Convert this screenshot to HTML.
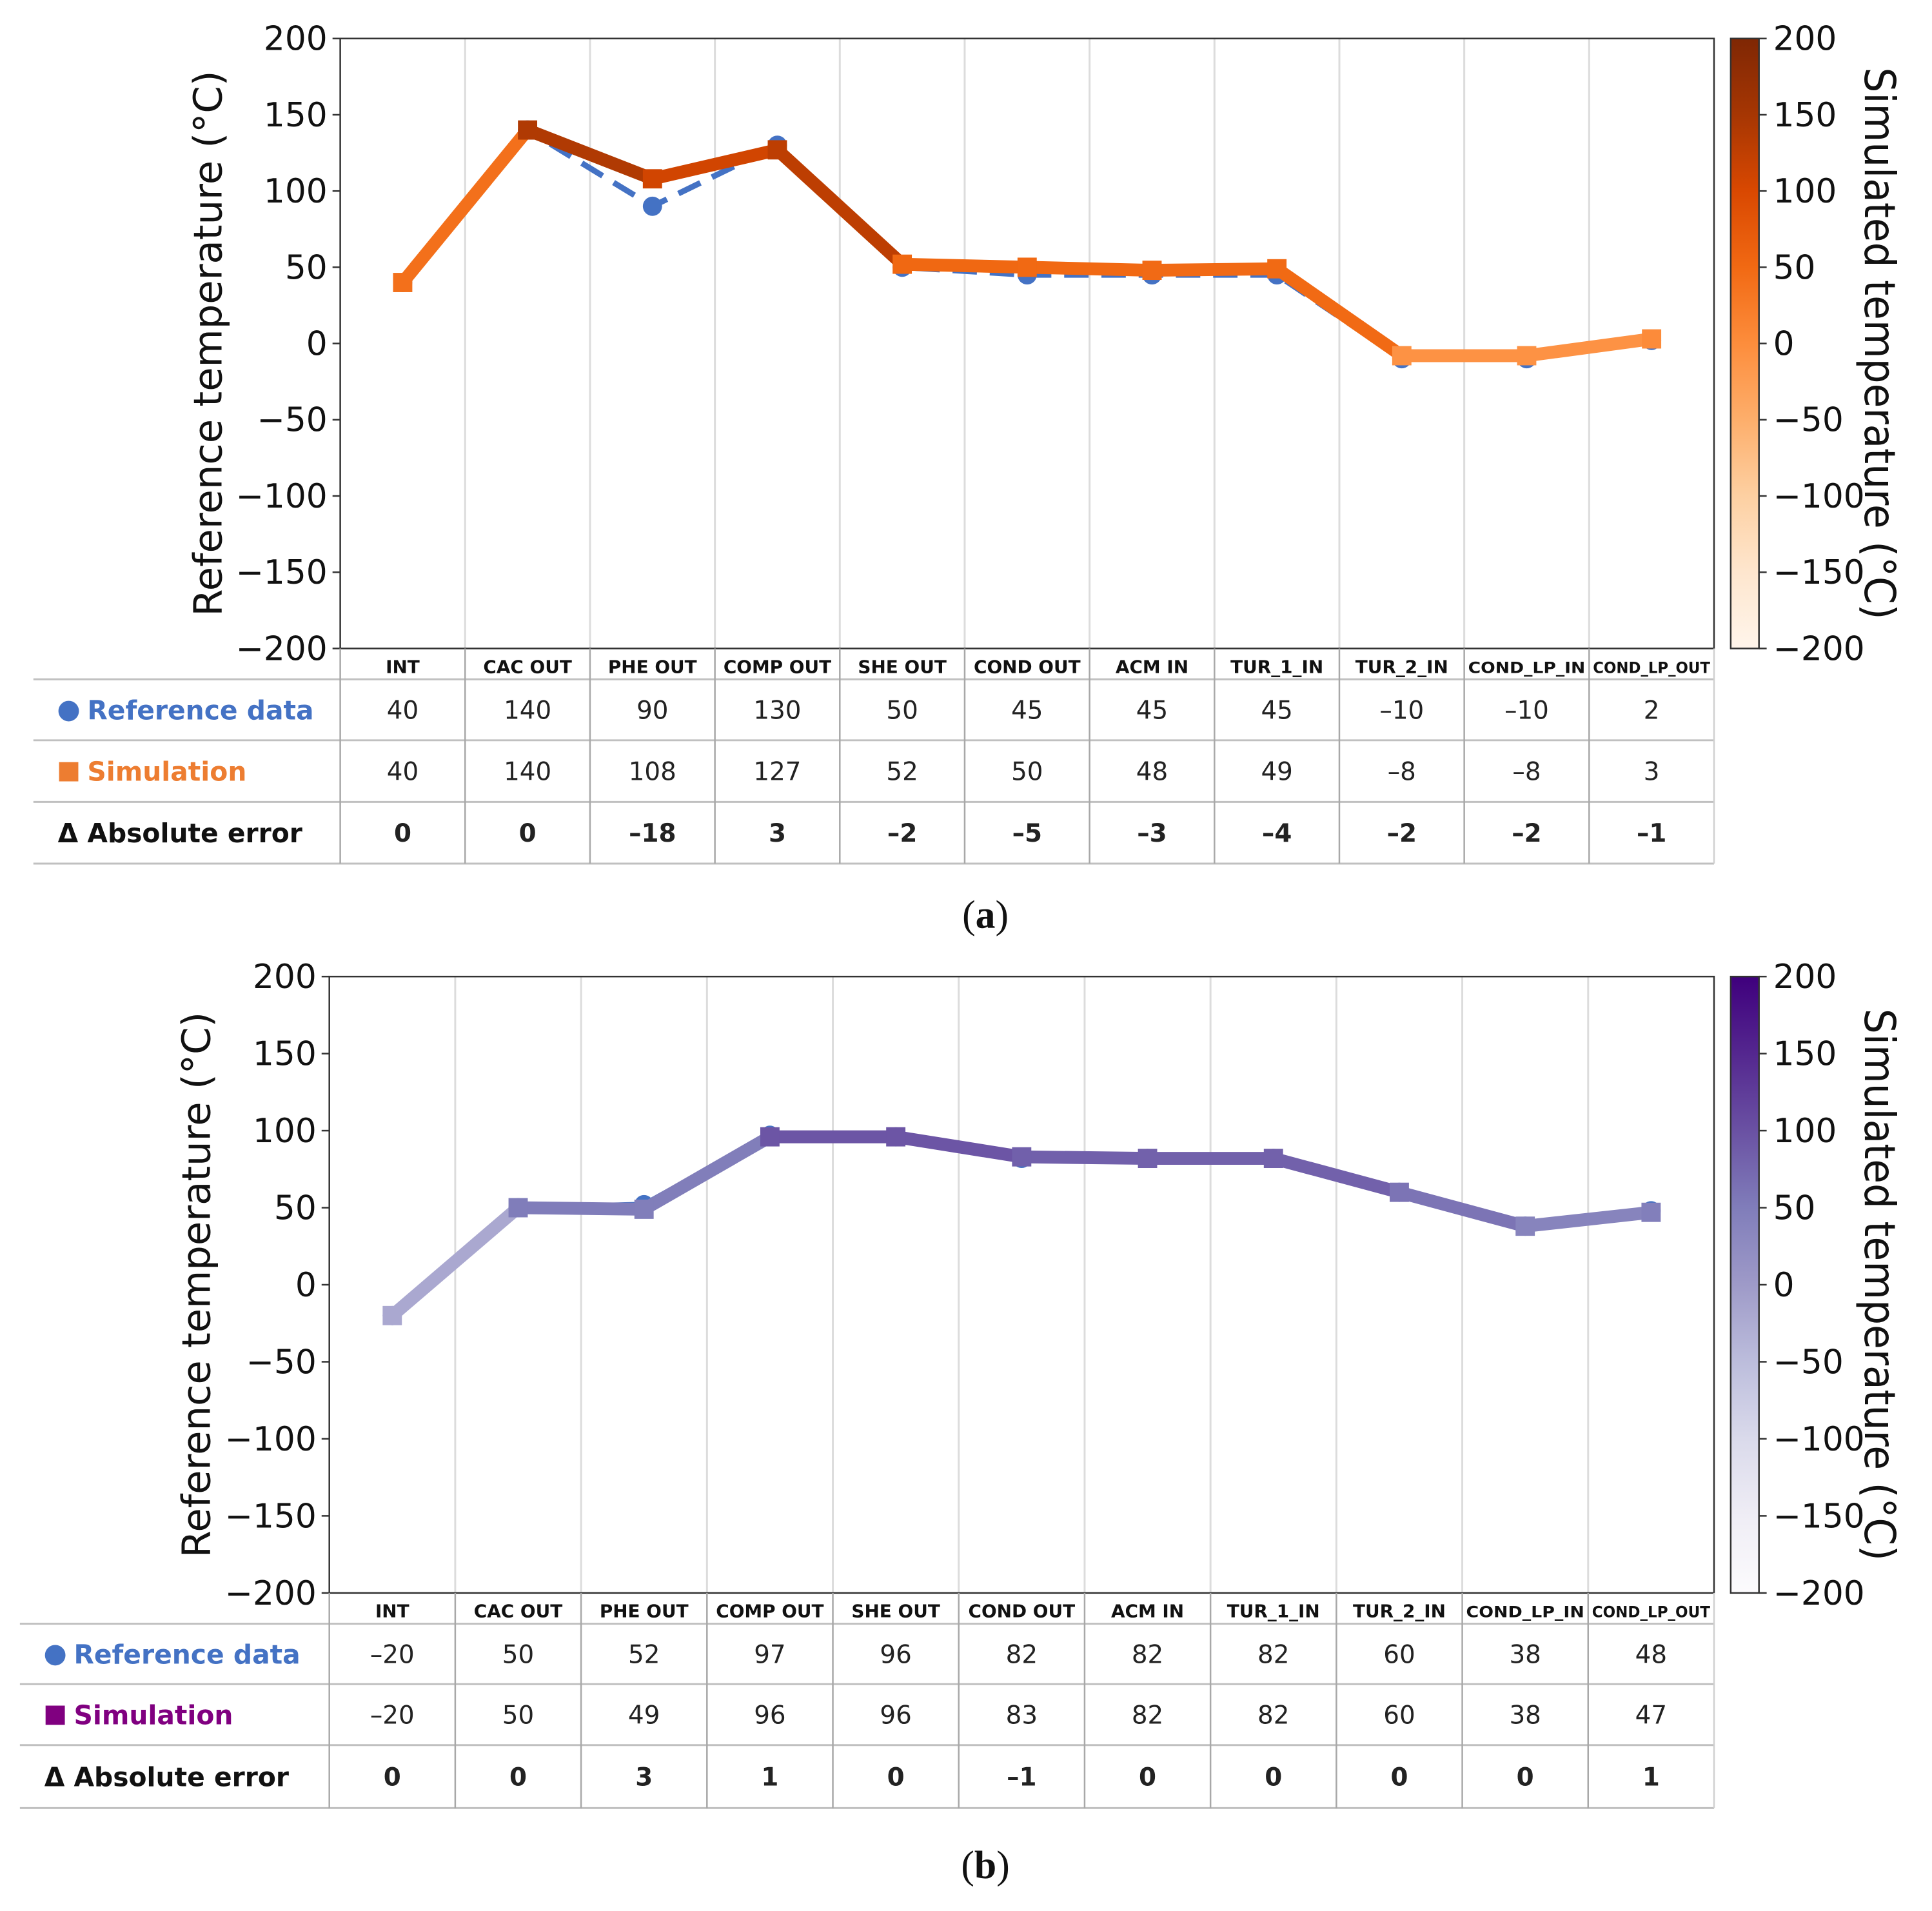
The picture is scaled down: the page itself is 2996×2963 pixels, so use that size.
<!DOCTYPE html>
<html><head><meta charset="utf-8">
<style>
html,body{margin:0;padding:0;background:#fff;}
svg{display:block;font-family:"DejaVu Sans","Liberation Sans",sans-serif;}
</style></head>
<body>
<svg width="2996" height="2963" viewBox="0 0 2996 2963" xmlns="http://www.w3.org/2000/svg"><g id="fig" transform="scale(0.9955)"></g></svg>
<script>
const categories = ["INT","CAC OUT","PHE OUT","COMP OUT","SHE OUT","COND OUT","ACM IN","TUR_1_IN","TUR_2_IN","COND_LP_IN","COND_LP_OUT"];
const refA = [40,140,90,130,50,45,45,45,-10,-10,2];
const simA = [40,140,108,127,52,50,48,49,-8,-8,3];
const errA = [0,0,-18,3,-2,-5,-3,-4,-2,-2,-1];
const refB = [-20,50,52,97,96,82,82,82,60,38,48];
const simB = [-20,50,49,96,96,83,82,82,60,38,47];
const errB = [0,0,3,1,0,-1,0,0,0,0,1];
const yTicks = [200,150,100,50,0,-50,-100,-150,-200];
const yMin = -200, yMax = 200;

const ORANGES = ["#fff5eb","#fee6ce","#fdd0a2","#fdae6b","#fd8d3c","#f16913","#d94801","#a63603","#7f2704"];
const PURPLES = ["#fcfbfd","#efedf5","#dadaeb","#bcbddc","#9e9ac8","#807dba","#6a51a3","#54278f","#3f007d"];
const NS = "http://www.w3.org/2000/svg";
const svg = document.getElementById('fig');

function hex(c){return [1,3,5].map(i=>parseInt(c.substr(i,2),16));}
function cmap(stops,t){
  t=Math.max(0,Math.min(1,t));
  const p=t*(stops.length-1), i=Math.min(Math.floor(p),stops.length-2), f=p-i;
  const a=hex(stops[i]), b=hex(stops[i+1]);
  return "rgb("+a.map((v,k)=>Math.round(v+(b[k]-v)*f)).join(",")+")";
}
function el(tag,attrs,parent,text){
  const e=document.createElementNS(NS,tag);
  for(const k in attrs) e.setAttribute(k,attrs[k]);
  if(text!==undefined) e.textContent=text;
  (parent||svg).appendChild(e);
  return e;
}
function fmt(v){return v<0?"\u2212"+Math.abs(v):String(v);}

function panel(o){
  const g=el('g',{});
  
  
  const L=o.left,R=o.right,T=o.top,B=o.bottom;
  const n=categories.length, cw=(R-L)/n;
  const x=i=>L+cw*(i+0.5);
  const y=v=>B-(v-yMin)/(yMax-yMin)*(B-T);
  for(let i=1;i<n;i++){
    const gl=el('line',{x1:L+cw*i,x2:L+cw*i,y1:T,y2:B,stroke:"#dcdcdc","stroke-width":3},g);
    
    
  }
  const fr=el('rect',{x:L,y:T,width:R-L,height:B-T,fill:"none",stroke:"#333","stroke-width":2.5},g);
  
  
  yTicks.forEach(t=>{
    el('line',{x1:L-12,x2:L,y1:y(t),y2:y(t),stroke:"#333","stroke-width":2.5},g);
    const tl=el('text',{x:L-20,y:y(t)+18,"text-anchor":"end","font-size":52,fill:"#111"},g,fmt(t));
    
    
  });
  const yl=el('text',{x:0,y:0,transform:`translate(${o.ylabX},${(T+B)/2}) rotate(-90)`,"text-anchor":"middle","font-size":61,fill:"#111"},g,"Reference temperature (\u00B0C)");
  
  
  const refPts=o.ref.map((v,i)=>x(i)+","+y(v)).join(" ");
  const rl=el('polyline',{points:refPts,fill:"none",stroke:"#4472c4","stroke-width":9,"stroke-dasharray":"38 20"},g);
  
  
  o.ref.forEach((v,i)=>{
    const c=el('circle',{cx:x(i),cy:y(v),r:15,fill:"#4472c4"},g);
    
    
  });
  for(let i=0;i<n-1;i++){
    const s=el('line',{x1:x(i),y1:y(o.sim[i]),x2:x(i+1),y2:y(o.sim[i+1]),stroke:cmap(o.cm,(o.sim[i]-yMin)/(yMax-yMin)),"stroke-width":20,"stroke-linecap":"butt"},g);
    
    
  }
  o.sim.forEach((v,i)=>{
    const m=el('rect',{x:x(i)-15,y:y(v)-15,width:30,height:30,fill:cmap(o.cm,(v-yMin)/(yMax-yMin))},g);
    
    
  });
  const gid="grad"+o.name;
  const defs=el('defs',{},g);
  const lg=el('linearGradient',{id:gid,x1:0,y1:1,x2:0,y2:0},defs);
  o.cm.forEach((c,i)=>el('stop',{offset:i/(o.cm.length-1),"stop-color":c},lg));
  const cb=el('rect',{x:2696,y:T,width:44,height:B-T,fill:`url(#${gid})`,stroke:"#333","stroke-width":2.5},g);
  
  
  yTicks.forEach(t=>{
    el('line',{x1:2740,x2:2752,y1:y(t),y2:y(t),stroke:"#333","stroke-width":2.5},g);
    const tl=el('text',{x:2762,y:y(t)+18,"font-size":52,fill:"#111"},g,fmt(t));
    
    
  });
  const ct=el('text',{x:0,y:0,transform:`translate(2905,${(T+B)/2}) rotate(90)`,"text-anchor":"middle","font-size":66,fill:"#111",textLength:860,lengthAdjust:"spacingAndGlyphs"},g,"Simulated temperature (\u00B0C)");
  
  
  const rows=o.rows;
  const tg=el('g',{},g);
  
  
  for(let r=1;r<rows.length;r++){
    el('line',{x1:o.tLeft,x2:R,y1:rows[r],y2:rows[r],stroke:"#c0c0c0","stroke-width":3},tg);
  }
  for(let i=0;i<=n;i++){
    el('line',{x1:L+cw*i,x2:L+cw*i,y1:B,y2:rows[rows.length-1],stroke:i==n?"#d0d0d0":"#a8a8a8","stroke-width":2.5},tg);
  }
  categories.forEach((c,i)=>{
    const long=c.length>9;
    const at={x:x(i),y:B+38,"text-anchor":"middle","font-size":long?24:28,"font-weight":"bold",fill:"#111"};
    if(long){at.textLength=cw-12;at.lengthAdjust="spacingAndGlyphs";}
    const h=el('text',at,tg,c);
    
    
  });
  const data=[o.ref,o.sim,o.err];
  data.forEach((arr,r)=>{
    const cy=(rows[r+1]+rows[r+2])/2+14;
    arr.forEach((v,i)=>{
      const t=el('text',{x:x(i),y:cy,"text-anchor":"middle","font-size":39,"font-weight":r==2?"bold":"normal",fill:"#222"},tg,String(v).replace('-','\u2013'));
      
      
    });
  });
  const lx=o.tLeft+38;
  const c1=(rows[1]+rows[2])/2, c2=(rows[2]+rows[3])/2, c3=(rows[3]+rows[4])/2;
  el('circle',{cx:lx+17,cy:c1+2,r:16,fill:"#4472c4"},tg);
  const l1=el('text',{x:lx+46,y:c1+15,"font-size":41,"font-weight":"bold",fill:"#4472c4"},tg,"Reference data");
  
  
  el('rect',{x:lx+2,y:c2-14,width:30,height:30,fill:o.simColor},tg);
  const l2=el('text',{x:lx+46,y:c2+15,"font-size":41,"font-weight":"bold",fill:o.simColor},tg,"Simulation");
  
  
  const l3=el('text',{x:lx,y:c3+15,"font-size":41,"font-weight":"bold",fill:"#111"},tg,"\u0394 Absolute error");
  
  
  const cap=el('text',{x:1535,y:o.capY,"text-anchor":"middle","font-size":62,"font-family":"Liberation Serif, serif",fill:"#111"},g,"");
  
  
  el('tspan',{},cap,"(");
  el('tspan',{"font-weight":"bold"},cap,o.cap);
  el('tspan',{},cap,")");
}

panel({name:"panel-a",left:530,right:2670,top:60,bottom:1010,ylabX:345,ref:refA,sim:simA,err:errA,cm:ORANGES,simColor:"#ed7d31",
  tLeft:52,rows:[1010,1058,1153,1249,1345],capY:1445,cap:"a"});
panel({name:"panel-b",left:513,right:2670,top:1521,bottom:2481,ylabX:327,ref:refB,sim:simB,err:errB,cm:PURPLES,simColor:"#800080",
  tLeft:31,rows:[2481,2529,2623,2718,2816],capY:2925,cap:"b"});
</script>
</body></html>
